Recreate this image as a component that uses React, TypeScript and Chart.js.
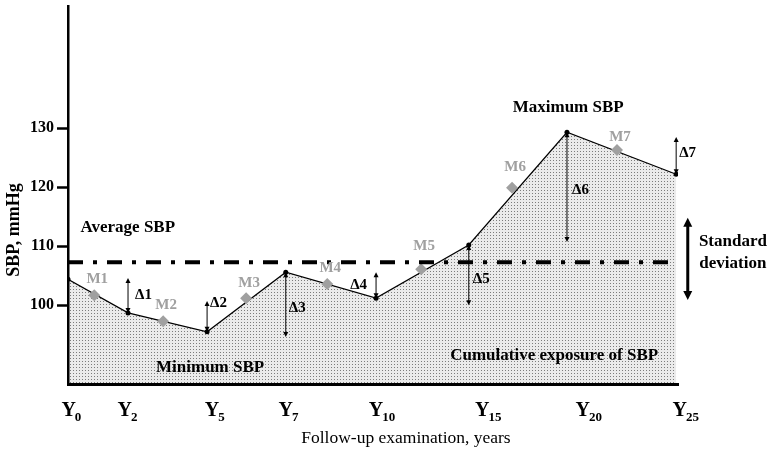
import React, { useEffect, useRef } from 'react';
import { Chart, registerables } from 'chart.js';

Chart.register(...registerables);

// ---- data (x positions are in axis units 0..100 along the follow-up axis) ----
const visitLabels = ['0', '2', '5', '7', '10', '15', '20', '25'];
const visitPos = [0, 9.84, 22.8, 35.7, 50.5, 65.7, 81.8, 99.7];
const sbpValues = [104.4, 98.7, 95.5, 105.6, 101.2, 110.2, 129.3, 122.2];
const visitLabelPos = [0.1, 9.3, 23.6, 35.7, 50.5, 67.9, 84.4, 100.3];

const midNames = ['M1', 'M2', 'M3', 'M4', 'M5', 'M6', 'M7'];
const midPos = [4.3, 15.6, 29.2, 42.5, 57.9, 72.8, 90.0];
const midValues = [101.7, 97.3, 101.2, 103.6, 106.1, 119.9, 126.3];

const averageSbp = 107.3;
const averageLineEnd = 99.2;
const sdUpper = 114.8;
const sdLower = 100.9;
const sdPos = 101.6;

const deltaNames = ['Δ1', 'Δ2', 'Δ3', 'Δ4', 'Δ5', 'Δ6', 'Δ7'];
const deltaFrom = [104.6, 100.7, 105.6, 105.6, 110.2, 129.3, 128.5];
const deltaTo = [98.7, 95.5, 94.6, 101.2, 100.0, 110.7, 122.2];

const yTicks = [100, 110, 120, 130];
const yMin = 86.65;
const yMax = 150.7;
const xMin = 0;
const xMax = 100;

const notes = [
  { text: 'Maximum SBP', x: 82.0, y: 133.4 },
  { text: 'Average SBP', x: 9.8, y: 113.1 },
  { text: 'Minimum SBP', x: 23.3, y: 89.4 },
  { text: 'Cumulative exposure of SBP', x: 79.7, y: 91.4 },
  { text: 'Standard', x: 109.0, y: 110.7 },
  { text: 'deviation', x: 109.0, y: 107.1 },
];

// ---- styles ----
const SERIF = '"Liberation Serif", "Times New Roman", serif';
const GREY = '#a0a0a0';
const midLabelDy = [-16, -16, -15, -16, -23, -21, -13];
const deltaLabelDx = [7, 3, 3, -9, 4, 5, 3];
const deltaLabelDy = [0, -13, 4, 0, 4, 3, -2];

function vArrow(ctx: CanvasRenderingContext2D, x: number, yA: number, yB: number, lw: number, hl: number, hw: number) {
  const top = Math.min(yA, yB);
  const bot = Math.max(yA, yB);
  ctx.lineWidth = lw;
  ctx.beginPath();
  ctx.moveTo(x, top + hl * 0.7);
  ctx.lineTo(x, bot - hl * 0.7);
  ctx.stroke();
  ctx.beginPath();
  ctx.moveTo(x, top);
  ctx.lineTo(x - hw, top + hl);
  ctx.lineTo(x + hw, top + hl);
  ctx.closePath();
  ctx.fill();
  ctx.beginPath();
  ctx.moveTo(x, bot);
  ctx.lineTo(x - hw, bot - hl);
  ctx.lineTo(x + hw, bot - hl);
  ctx.closePath();
  ctx.fill();
}

const annotPlugin = {
  id: 'annot',
  afterDraw(chart: any) {
    const ctx: CanvasRenderingContext2D = chart.ctx;
    const xs = chart.scales.x;
    const ys = chart.scales.y;
    const X = (v: number) => xs.getPixelForValue(v);
    const Y = (v: number) => ys.getPixelForValue(v);
    ctx.save();
    ctx.fillStyle = '#000';
    ctx.strokeStyle = '#000';

    // delta arrows
    for (let i = 0; i < deltaNames.length; i++) {
      const x = X(visitPos[i + 1]);
      const y1 = Y(deltaFrom[i]);
      const y2 = Y(deltaTo[i]);
      vArrow(ctx, x, y1, y2, 1, 5, 2.5);
      ctx.font = `bold 15px ${SERIF}`;
      ctx.textBaseline = 'middle';
      ctx.textAlign = deltaLabelDx[i] < 0 ? 'right' : 'left';
      ctx.fillText(deltaNames[i], x + deltaLabelDx[i], (y1 + y2) / 2 + deltaLabelDy[i]);
    }

    // standard deviation arrow
    vArrow(ctx, X(sdPos), Y(sdUpper), Y(sdLower), 3, 9, 4.5);

    // notes
    ctx.font = `bold 17px ${SERIF}`;
    ctx.textAlign = 'center';
    ctx.textBaseline = 'middle';
    for (const n of notes) ctx.fillText(n.text, X(n.x), Y(n.y));

    // M labels
    ctx.fillStyle = GREY;
    ctx.font = `bold 15px ${SERIF}`;
    for (let i = 0; i < midNames.length; i++) {
      ctx.fillText(midNames[i], X(midPos[i]) + 3, Y(midValues[i]) + midLabelDy[i]);
    }

    // x tick labels Y with subscripts
    ctx.fillStyle = '#000';
    ctx.textBaseline = 'alphabetic';
    for (let i = 0; i < visitLabels.length; i++) {
      const x = X(visitLabelPos[i]);
      ctx.font = `bold 20px ${SERIF}`;
      ctx.textAlign = 'center';
      const w = ctx.measureText('Y').width;
      ctx.fillText('Y', x, 416);
      ctx.font = `bold 13px ${SERIF}`;
      ctx.textAlign = 'left';
      ctx.fillText(visitLabels[i], x + w / 2 - 1, 421);
    }

    // x title
    ctx.font = `17.5px ${SERIF}`;
    ctx.textAlign = 'center';
    ctx.textBaseline = 'middle';
    ctx.fillText('Follow-up examination, years', X(55.4), 438);

    // y title
    ctx.save();
    ctx.translate(14, 230);
    ctx.rotate(-Math.PI / 2);
    ctx.font = `bold 18px ${SERIF}`;
    ctx.fillText('SBP, mmHg', 0, 0);
    ctx.restore();

    ctx.restore();
  },
};

export default function App() {
  const ref = useRef<HTMLCanvasElement>(null);
  useEffect(() => {
    const canvas = ref.current as HTMLCanvasElement;
    const pc = document.createElement('canvas');
    pc.width = 3;
    pc.height = 3;
    const p = pc.getContext('2d') as CanvasRenderingContext2D;
    p.fillStyle = '#ebebeb';
    p.fillRect(0, 0, 3, 3);
    p.fillStyle = '#7c7c7c';
    p.fillRect(1, 1, 1, 1);
    const pattern = (canvas.getContext('2d') as CanvasRenderingContext2D).createPattern(pc, 'repeat');

    const chart = new Chart(canvas, {
      type: 'line',
      data: {
        datasets: [
          {
            data: [
              { x: xMin, y: averageSbp },
              { x: averageLineEnd, y: averageSbp },
            ],
            borderColor: '#000',
            borderWidth: 4,
            borderDash: [15, 10, 4, 10],
            borderCapStyle: 'butt',
            pointRadius: 0,
            fill: false,
          },
          {
            data: midPos.map((x, i) => ({ x, y: midValues[i] })),
            showLine: false,
            pointStyle: 'rectRot',
            pointRadius: 6,
            pointBackgroundColor: GREY,
            pointBorderColor: GREY,
            pointBorderWidth: 0,
            fill: false,
          },
          {
            data: visitPos.map((x, i) => ({ x, y: sbpValues[i] })),
            borderColor: '#000',
            borderWidth: 1.2,
            pointRadius: 2.5,
            pointBackgroundColor: '#000',
            pointBorderWidth: 0,
            backgroundColor: pattern as any,
            fill: 'start',
            tension: 0,
          },
        ],
      },
      options: {
        responsive: false,
        animation: false,
        devicePixelRatio: 1,
        layout: { padding: { left: 0, top: 6, right: 96, bottom: 0 } },
        plugins: { legend: { display: false }, tooltip: { enabled: false } },
        scales: {
          x: {
            type: 'linear',
            min: xMin,
            max: xMax,
            ticks: { display: false },
            grid: { display: false, drawTicks: false },
            border: { display: true, color: '#000', width: 3, z: 1 },
            afterFit: (s: any) => {
              s.height = 74;
              s.paddingLeft = 0;
              s.paddingRight = 0;
              s.paddingTop = 0;
              s.paddingBottom = 0;
            },
          },
          y: {
            type: 'linear',
            min: yMin,
            max: yMax,
            afterBuildTicks: (s: any) => {
              s.ticks = yTicks.map((v) => ({ value: v }));
            },
            ticks: {
              color: '#000',
              font: { family: SERIF, size: 16, weight: 'bold' },
              padding: 3,
            },
            grid: {
              drawOnChartArea: false,
              drawTicks: true,
              tickLength: 11,
              tickWidth: 2.5,
              tickColor: '#000',
              color: '#000',
            },
            border: { display: true, color: '#000', width: 2.5, z: 1 },
            afterFit: (s: any) => {
              s.width = 68;
              s.paddingLeft = 0;
              s.paddingRight = 0;
              s.paddingTop = 0;
              s.paddingBottom = 0;
            },
          },
        },
      } as any,
      plugins: [annotPlugin],
    });
    return () => chart.destroy();
  }, []);

  return (
    <div style={{ position: 'fixed', left: 0, top: 0, width: 774, height: 458, background: '#fff' }}>
      <canvas ref={ref} width={774} height={458} style={{ display: 'block', width: 774, height: 458 }} />
    </div>
  );
}
